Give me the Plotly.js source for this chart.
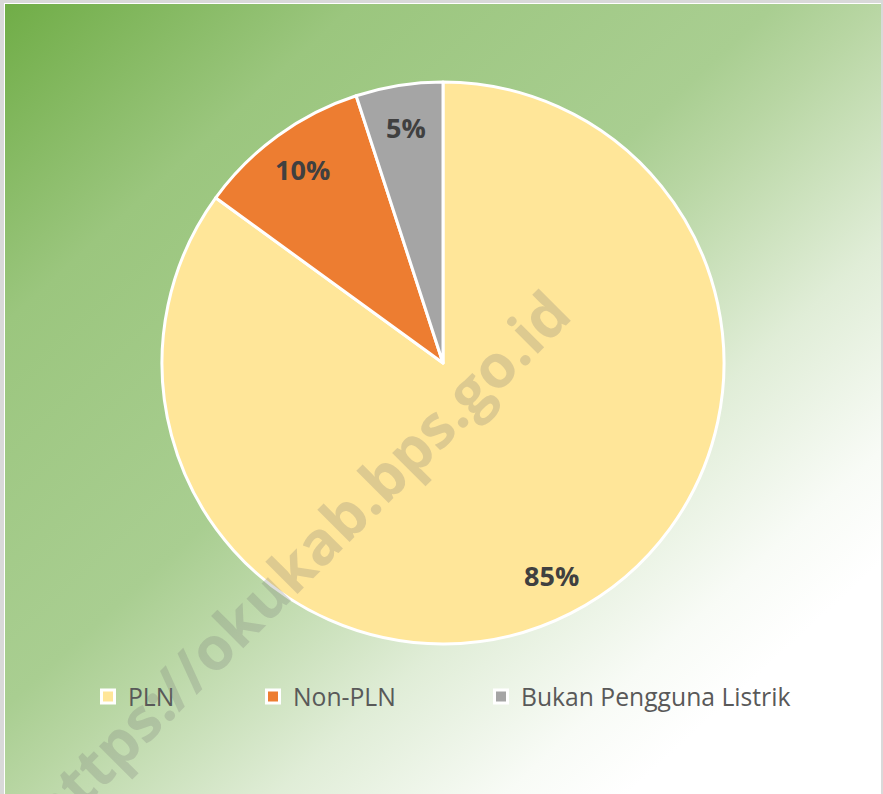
<!DOCTYPE html>
<html>
<head>
<meta charset="utf-8">
<script src="https://cdn.plot.ly/plotly-3.0.1.min.js"></script>
<style>
  html, body { margin: 0; padding: 0; background: #ffffff; }
  #frame {
    position: absolute; left: 0; top: 0; width: 877px; height: 800px;
    border-top: 3px solid #d9d9d9; border-left: 4px solid #d9d9d9; border-right: 2px solid #d9d9d9;
    box-sizing: content-box;
  }
  #bg {
    position: absolute; left: 1px; top: 1px; right: 0; bottom: 0;
    background: linear-gradient(to bottom right,
      #70ad47 0%, #9bc67e 20%, #a9ce91 44%, #b8d6a3 50%, #e0edd7 65%, #f8fbf6 78%, #ffffff 85%);
  }
  #chart { position: absolute; left: 0; top: 0; width: 883px; height: 794px; }
</style>
</head>
<body>
<div id="frame"><div id="bg"></div></div>
<div id="chart"></div>
<script>
// Data
const categories = ["PLN", "Non-PLN", "Bukan Pengguna Listrik"];
const values = [85, 10, 5];
const colors = ["#FFE699", "#ED7D31", "#A5A5A5"];
const watermark = "https://okukab.bps.go.id";

const W = 883, H = 794;
const cx = 443, cy = 363, r = 281;
const labelRadius = 0.85;              // label distance as fraction of radius
const legendLeft = [88, 253, 481];     // legend entry left edges (px)
const legendY = 697;

// Pie trace
const pie = {
  type: "pie",
  labels: categories,
  values: values,
  sort: false,
  direction: "clockwise",
  rotation: 0,
  marker: { colors: colors, line: { color: "#ffffff", width: 3 } },
  textinfo: "none",
  hoverinfo: "none",
  showlegend: false,
  domain: {
    x: [(cx - r) / W, (cx + r) / W],
    y: [1 - (cy + r) / H, 1 - (cy - r) / H]
  }
};

// Legend entries (one per category, each in its own legend box)
const legendNames = ["legend", "legend2", "legend3"];
const legendTraces = categories.map((c, i) => ({
  type: "scatter", mode: "markers",
  x: [null], y: [null],
  name: c,
  legend: legendNames[i],
  marker: { symbol: "square", size: 13, color: colors[i], line: { color: "#ffffff", width: 3 } },
  hoverinfo: "none"
}));

// Percent labels placed at slice mid-angles (computed from values)
const total = values.reduce((a, b) => a + b, 0);
let cum = 0;
const labelAnns = values.map((v) => {
  const mid = (cum + v / 2) / total * 2 * Math.PI; // clockwise from 12 o'clock
  cum += v;
  const px = cx + labelRadius * r * Math.sin(mid);
  const py = cy - labelRadius * r * Math.cos(mid);
  return {
    text: Math.round(v / total * 100) + "%",
    xref: "paper", yref: "paper",
    x: px / W, y: 1 - py / H,
    xanchor: "center", yanchor: "middle",
    showarrow: false,
    font: { family: "Open Sans", size: 27, color: "#404040", weight: 700 }
  };
});

const layout = {
  width: W, height: H,
  margin: { l: 0, r: 0, t: 0, b: 0 },
  paper_bgcolor: "rgba(0,0,0,0)",
  plot_bgcolor: "rgba(0,0,0,0)",
  font: { family: "Open Sans", color: "#595959" },
  showlegend: true,
  xaxis: { visible: false, showgrid: false, zeroline: false },
  yaxis: { visible: false, showgrid: false, zeroline: false },
  annotations: labelAnns.concat([{
    text: watermark,
    xref: "paper", yref: "paper",
    x: 298 / W, y: 1 - 561 / H,
    xanchor: "center", yanchor: "middle",
    textangle: -45,
    showarrow: false,
    font: { family: "Open Sans", size: 60, color: "rgba(120,120,120,0.25)", weight: 700 }
  }])
};

legendNames.forEach((ln, i) => {
  layout[ln] = {
    orientation: "h",
    x: legendLeft[i] / W, xanchor: "left",
    y: 1 - legendY / H, yanchor: "middle",
    font: { family: "Open Sans", size: 24.7, color: "#595959" },
    bgcolor: "rgba(0,0,0,0)",
    borderwidth: 0
  };
});

Plotly.newPlot("chart", [pie].concat(legendTraces), layout, { displayModeBar: false, staticPlot: true });
</script>
</body>
</html>
